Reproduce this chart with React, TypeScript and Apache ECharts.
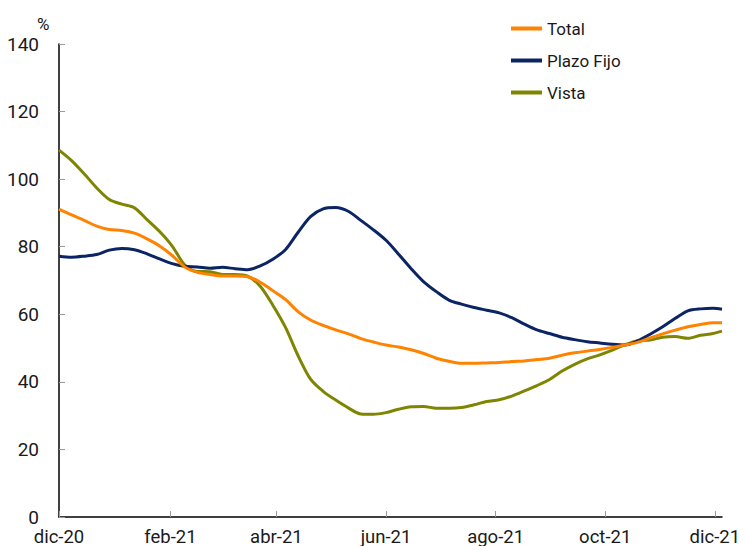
import React, { useEffect, useRef } from "react";
import * as echarts from "echarts";

// days elapsed since 1 Dec 2020
const dayOffsets = [
  0, 7, 14, 21, 28, 35, 42, 49, 56, 63, 70, 77, 84, 91, 98, 105, 112, 119, 126, 133,
  140, 147, 154, 161, 168, 175, 182, 189, 196, 203, 210, 217, 224, 231, 238, 245, 252,
  259, 266, 273, 280, 287, 294, 301, 308, 315, 322, 329, 336, 343, 350, 357, 364, 369,
];

const totalValues = [
  91.1, 89.4, 87.8, 86.1, 85.1, 84.8, 84.0, 82.3, 80.2, 77.4, 74.0, 72.4, 71.8, 71.3, 71.3,
  71.1, 69.5, 67.0, 64.4, 60.8, 58.3, 56.7, 55.4, 54.2, 52.8, 51.8, 50.9, 50.3, 49.5, 48.4,
  47.0, 46.1, 45.5, 45.5, 45.6, 45.7, 46.0, 46.2, 46.6, 47.0, 47.9, 48.6, 49.1, 49.6, 50.2,
  50.9, 51.7, 53.0, 54.2, 55.3, 56.3, 57.0, 57.5, 57.5,
];

const plazoFijoValues = [
  77.2, 76.9, 77.2, 77.7, 79.0, 79.5, 79.1, 77.9, 76.4, 75.0, 74.2, 74.0, 73.6, 73.9, 73.5,
  73.2, 74.3, 76.3, 79.1, 84.2, 88.9, 91.2, 91.6, 90.5, 87.8, 85.0, 81.9, 77.8, 73.5, 69.6,
  66.7, 64.2, 63.0, 62.0, 61.2, 60.4, 59.0, 57.1, 55.4, 54.3, 53.2, 52.5, 51.9, 51.5, 51.1,
  50.9, 52.1, 54.1, 56.3, 58.8, 61.0, 61.6, 61.8, 61.5,
];

const vistaValues = [
  108.6, 105.5, 101.6, 97.4, 94.0, 92.6, 91.5, 88.0, 84.5, 80.2, 74.6, 72.7, 72.6, 71.8, 71.8,
  71.3, 68.3, 62.7, 56.2, 47.8, 40.8, 37.2, 34.6, 32.3, 30.5, 30.4, 30.9, 31.9, 32.6, 32.7,
  32.2, 32.2, 32.4, 33.2, 34.2, 34.7, 35.8, 37.3, 38.9, 40.7, 43.2, 45.2, 46.8, 48.0, 49.4,
  51.0, 52.2, 52.4, 53.2, 53.4, 52.9, 53.8, 54.3, 55.0,
];

const seriesNames = ["Total", "Plazo Fijo", "Vista"];
const seriesColors = ["#FF8200", "#0B2463", "#7F8500"];

const tickDates = ["2020-12-01", "2021-02-01", "2021-04-01", "2021-06-01", "2021-08-01", "2021-10-01", "2021-12-01"];
const tickLabels = ["dic-20", "feb-21", "abr-21", "jun-21", "ago-21", "oct-21", "dic-21"];

const START = Date.UTC(2020, 11, 1);
const AXIS_END_DAY = 369;
const DAY = 86400000;

function toDay(s: string) {
  const [y, m, d] = s.split("-").map(Number);
  return Math.round((Date.UTC(y, m - 1, d) - START) / DAY);
}

export default function App() {
  const ref = useRef<HTMLDivElement>(null);

  useEffect(() => {
    if (!ref.current) return;
    const chart = echarts.init(ref.current, undefined, { renderer: "svg" });
    const tickDays = tickDates.map(toDay);
    const allSeries = [totalValues, plazoFijoValues, vistaValues];
    const font = "Roboto, 'Liberation Sans', sans-serif";

    chart.setOption({
      animation: false,
      backgroundColor: "#ffffff",
      textStyle: { fontFamily: font },
      grid: { left: 59, right: 23, top: 44, bottom: 29, containLabel: false },
      legend: {
        orient: "vertical",
        left: 506,
        top: 15,
        itemWidth: 31,
        itemHeight: 4,
        itemGap: 15,
        icon: "rect",
        textStyle: { fontSize: 17, color: "#1a1a1a", fontFamily: font, lineHeight: 17 },
        data: seriesNames,
      },
      graphic: [
        {
          type: "text",
          left: 37,
          top: 15,
          style: { text: "%", fontSize: 17, fill: "#1a1a1a", fontFamily: font },
        },
      ],
      xAxis: {
        type: "value",
        min: 0,
        max: AXIS_END_DAY,
        axisLine: { show: true, onZero: false, lineStyle: { color: "#000", width: 1.5 } },
        axisTick: {
          show: true,
          inside: true,
          length: 6,
          customValues: tickDays,
          lineStyle: { color: "#999" },
        },
        axisLabel: {
          show: true,
          customValues: tickDays,
          fontSize: 18.5,
          lineHeight: 17,
          color: "#1a1a1a",
          margin: 11,
          fontFamily: font,
          showMaxLabel: true,
          formatter: (v: number) => {
            const i = tickDays.indexOf(Math.round(v));
            return i >= 0 ? tickLabels[i] : "";
          },
        },
        splitLine: { show: false },
      },
      yAxis: {
        type: "value",
        min: 0,
        max: 140,
        interval: 20,
        axisLine: { show: true, lineStyle: { color: "#000", width: 1.5 } },
        axisTick: { show: true, inside: true, length: 6, lineStyle: { color: "#999" } },
        axisLabel: { fontSize: 19, lineHeight: 15, color: "#1a1a1a", margin: 20, fontFamily: font },
        splitLine: { show: false },
      },
      series: seriesNames.map((name, i) => ({
        name,
        type: "line",
        data: dayOffsets.map((d, k) => [d, allSeries[i][k]]),
        showSymbol: false,
        symbol: "none",
        smooth: 0.3,
        lineStyle: { width: 3, color: seriesColors[i] },
        itemStyle: { color: seriesColors[i] },
        z: i === 0 ? 4 : i === 1 ? 3 : 2,
      })),
    });

    return () => chart.dispose();
  }, []);

  return (
    <div
      ref={ref}
      style={{ position: "absolute", left: 0, top: 0, width: 745, height: 546 }}
    />
  );
}
